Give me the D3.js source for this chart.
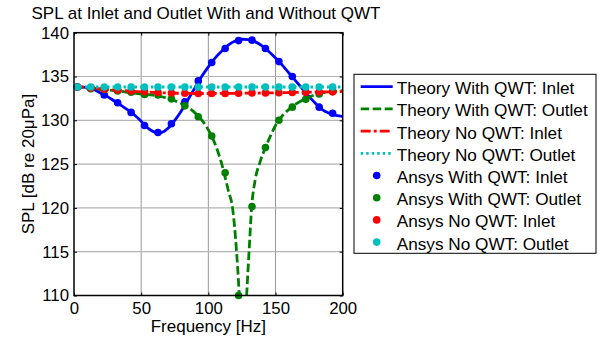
<!DOCTYPE html>
<html>
<head>
<meta charset="utf-8">
<script src="https://cdn.jsdelivr.net/npm/d3@7"></script>
<style>
  body { margin: 0; background: #fff; }
  text { font-family: Arial, "Liberation Sans", sans-serif; fill: #000; }
</style>
</head>
<body>
<svg></svg>
<script>
const size = {w: 602, h: 339};
const plot = {l: 74, r: 342.7, t: 32.7, b: 295.5};

// Ansys sample frequencies [Hz]
const ansysFreq = [2.5, 12.5, 22.5, 32.5, 42.5, 52.5, 62.5, 72.5, 82.5, 92.5,
    102.5, 112.5, 122.5, 132.5, 142.5, 152.5, 162.5, 172.5, 182.5, 192.5];
const ansysWithInlet = [133.8, 133.7, 132.9, 132.0, 130.9, 129.4, 128.6, 129.6, 132.1, 134.5,
    136.6, 138.2, 139.1, 139.15, 138.2, 136.7, 135.0, 133.2, 131.5, 130.8];
const ansysWithOutlet = [133.8, 133.6, 133.5, 133.35, 133.2, 132.95, 132.9, 132.45, 131.65, 130.4,
    128.2, 124.0, 110.0, 120.15, 126.9, 130.0, 131.5, 132.4, 133.0, 133.3];
const ansysNoInlet = [133.8, 133.7, 133.55, 133.45, 133.35, 133.27, 133.17, 133.12, 133.08, 133.06,
    133.06, 133.07, 133.09, 133.11, 133.13, 133.15, 133.18, 133.2, 133.23, 133.25];
const ansysNoOutlet = [133.8, 133.8, 133.8, 133.8, 133.8, 133.8, 133.8, 133.8, 133.8, 133.8,
    133.8, 133.8, 133.8, 133.8, 133.8, 133.8, 133.8, 133.8, 133.8, 133.8];

// theory curves
const thFreq = [0, 5, 10, 15, 20, 25, 30, 35, 40, 45, 50, 55, 60, 62.5, 65, 70, 75, 80, 85, 90,
    95, 100, 105, 110, 115, 120, 125, 130, 135, 140, 145, 150, 155, 160, 165, 170, 175, 180,
    185, 190, 195, 200];
const thWithInlet = [133.85, 133.8, 133.75, 133.5, 133.1, 132.7, 132.2, 131.7, 131.2, 130.6,
    129.9, 129.1, 128.65, 128.55, 128.6, 129.1, 130.0, 131.1, 132.4, 133.7,
    135.0, 136.1, 137.1, 137.9, 138.6, 139.05, 139.25, 139.2, 138.95, 138.5,
    137.85, 137.1, 136.3, 135.4, 134.5, 133.6, 132.7, 131.9, 131.2, 130.8, 130.55, 130.45];
const thNoInletFreq = [0, 10, 20, 30, 40, 50, 60, 70, 80, 90, 100, 120, 140, 160, 180, 200];
const thNoInlet = [133.85, 133.75, 133.6, 133.45, 133.35, 133.25, 133.18, 133.12, 133.08, 133.06,
    133.06, 133.08, 133.12, 133.17, 133.22, 133.27];
const thNoOutletFreq = [0, 200];
const thNoOutlet = [133.8, 133.8];
const thOutletFreq = [0, 10, 20, 30, 40, 50, 60, 70, 80, 85, 90, 95, 100, 105, 110, 115, 118,
    121, 123, 124.5, 125.7, 127, 128.5, 130.3, 132.2, 135, 138.4, 142.5, 145, 150, 155, 160,
    165, 170, 175, 180, 190, 200];
const thWithOutlet = [133.8, 133.65, 133.5, 133.4, 133.2, 133.0, 132.85, 132.5, 131.9, 131.45,
    130.85, 130.05, 128.9, 127.3, 125.0, 121.9, 120.0, 115.0, 110.0, 105.0, 100.0, 105.0,
    110.0, 115.0, 120.0, 123.3, 125.2, 126.9, 127.8, 129.4, 130.5, 131.25, 131.85, 132.3,
    132.65, 132.95, 133.25, 133.38];

const xTicks = [0, 50, 100, 150, 200];
const yTicks = [110, 115, 120, 125, 130, 135, 140];

const colors = {blue: '#0000ff', green: '#008000', red: '#ff0000', cyan: '#00bfbf'};

const svg = d3.select('svg')
    .attr('width', size.w)
    .attr('height', size.h);

const x = d3.scaleLinear().domain([0, 200]).range([plot.l, plot.r]);
const y = d3.scaleLinear().domain([110, 140]).range([plot.b, plot.t]);

svg.append('clipPath').attr('id', 'clip')
    .append('rect')
    .attr('x', plot.l).attr('y', plot.t)
    .attr('width', plot.r - plot.l).attr('height', plot.b - plot.t);

// grid
const grid = svg.append('g');
grid.selectAll('line.gx')
    .data(xTicks.slice(1, -1))
    .join('line')
    .attr('x1', d => x(d)).attr('x2', d => x(d))
    .attr('y1', plot.t).attr('y2', plot.b)
    .attr('stroke', '#999').attr('stroke-width', 1);
grid.selectAll('line.gy')
    .data(yTicks.slice(1, -1))
    .join('line')
    .attr('x1', plot.l).attr('x2', plot.r)
    .attr('y1', d => y(d)).attr('y2', d => y(d))
    .attr('stroke', '#b4b4b4').attr('stroke-width', 1.2);

// series
const series = [
    {name: 'Theory With QWT: Inlet', fx: thFreq, v: thWithInlet, color: colors.blue, dash: null},
    {name: 'Theory With QWT: Outlet', fx: thOutletFreq, v: thWithOutlet, color: colors.green, dash: '8.5,3.5'},
    {name: 'Theory No QWT: Inlet', fx: thNoInletFreq, v: thNoInlet, color: colors.red, dash: '10,3,3,3'},
    {name: 'Theory No QWT: Outlet', fx: thNoOutletFreq, v: thNoOutlet, color: colors.cyan, dash: '2.5,3'}
];
const dots = [
    {name: 'Ansys With QWT: Inlet', v: ansysWithInlet, color: colors.blue},
    {name: 'Ansys With QWT: Outlet', v: ansysWithOutlet, color: colors.green},
    {name: 'Ansys No QWT: Inlet', v: ansysNoInlet, color: colors.red},
    {name: 'Ansys No QWT: Outlet', v: ansysNoOutlet, color: colors.cyan}
];

const line = d3.line()
    .x(d => x(d[0]))
    .y(d => y(d[1]))
    .curve(d3.curveMonotoneX);

const lines = svg.append('g').attr('clip-path', 'url(#clip)');
series.forEach(s => {
    lines.append('path')
        .datum(s.fx.map((f, i) => [f, s.v[i]]))
        .attr('d', line)
        .attr('fill', 'none')
        .attr('stroke', s.color)
        .attr('stroke-width', 2.8)
        .attr('stroke-dasharray', s.dash);
});

const marks = svg.append('g');
dots.forEach(s => {
    marks.append('g').selectAll('circle')
        .data(s.v)
        .join('circle')
        .attr('cx', (d, i) => x(ansysFreq[i]))
        .attr('cy', d => y(d))
        .attr('r', 3.8)
        .attr('fill', s.color);
});

// axes box + ticks
svg.append('rect')
    .attr('x', plot.l).attr('y', plot.t)
    .attr('width', plot.r - plot.l).attr('height', plot.b - plot.t)
    .attr('fill', 'none').attr('stroke', '#000').attr('stroke-width', 1.5);

const yAxis = d3.axisLeft(y).tickValues(yTicks).tickSizeInner(-3).tickSizeOuter(0).tickPadding(5);
const xAxis = d3.axisBottom(x).tickValues(xTicks).tickSizeInner(-3).tickSizeOuter(0).tickPadding(7);

const gy = svg.append('g').attr('transform', `translate(${plot.l},0)`).call(yAxis);
const gy2 = svg.append('g').attr('transform', `translate(${plot.r},0)`)
    .call(d3.axisRight(y).tickValues(yTicks).tickSizeInner(-3).tickSizeOuter(0).tickFormat(''));
const gx = svg.append('g').attr('transform', `translate(0,${plot.b})`).call(xAxis);
const gx2 = svg.append('g').attr('transform', `translate(0,${plot.t})`)
    .call(d3.axisTop(x).tickValues(xTicks).tickSizeInner(-3).tickSizeOuter(0).tickFormat(''));

[gy, gy2, gx, gx2].forEach(g => {
    g.select('.domain').remove();
    g.selectAll('.tick line').attr('stroke', '#000').attr('stroke-width', 1);
    g.selectAll('text').style('font-size', '16.8px').style('font-family', 'Arial, "Liberation Sans", sans-serif').attr('fill', '#000');
});

// labels
svg.append('text')
    .attr('x', 31.5).attr('y', 19)
    .style('font-size', '17px')
    .text('SPL at Inlet and Outlet With and Without QWT');

svg.append('text')
    .attr('x', (plot.l + plot.r) / 2).attr('y', 332)
    .attr('text-anchor', 'middle')
    .style('font-size', '17px')
    .text('Frequency [Hz]');

svg.append('text')
    .attr('transform', `translate(33.5,${(plot.t + plot.b) / 2}) rotate(-90)`)
    .attr('text-anchor', 'middle')
    .style('font-size', '17px')
    .text('SPL [dB re 20\u03bcPa]');

// legend
const leg = svg.append('g');
leg.append('rect')
    .attr('x', 354).attr('y', 74.3)
    .attr('width', 242).attr('height', 179)
    .attr('fill', '#fff').attr('stroke', '#000').attr('stroke-width', 1);

const rowY = i => 86.7 + i * 22.2;
series.forEach((s, i) => {
    leg.append('line')
        .attr('x1', 360.7).attr('x2', 392.7)
        .attr('y1', rowY(i)).attr('y2', rowY(i))
        .attr('stroke', s.color).attr('stroke-width', 2.8)
        .attr('stroke-dasharray', s.dash);
    leg.append('text')
        .attr('x', 396.7).attr('y', rowY(i) + 7.5)
        .style('font-size', '17.2px')
        .text(s.name);
});
dots.forEach((s, j) => {
    const i = j + 4;
    leg.append('circle')
        .attr('cx', 376.7).attr('cy', rowY(i))
        .attr('r', 3.8).attr('fill', s.color);
    leg.append('text')
        .attr('x', 396.7).attr('y', rowY(i) + 7.5)
        .style('font-size', '17.2px')
        .text(s.name);
});
</script>
</body>
</html>
